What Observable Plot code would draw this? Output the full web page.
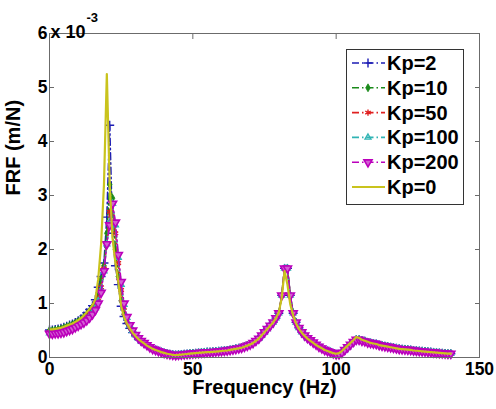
<!DOCTYPE html>
<html>
<head>
<meta charset="utf-8">
<script src="https://cdn.jsdelivr.net/npm/d3@7"></script>
<script src="https://cdn.jsdelivr.net/npm/@observablehq/plot@0.6"></script>
<style>
  html, body { margin: 0; padding: 0; background: #fff; }
  #chart { width: 496px; height: 409px; }
  #chart svg text { font-family: "Liberation Sans", Arial, sans-serif; font-weight: bold; }
</style>
</head>
<body>
<div id="chart"></div>
<script>
// Frequency response of the spindle model for several controller gains Kp.
// Receptance values are in units of 1e-3 m/N, sampled every 1 Hz from 0 to 140 Hz.
const freqHz = d3.range(0, 141);

const xTicks = [0, 50, 100, 150];
const yTicks = [0, 1, 2, 3, 4, 5, 6];

// Kp = 0 (open loop), full band 0–140 Hz
const frfKp0 = [
  0.52, 0.52, 0.53, 0.54, 0.55, 0.57, 0.59, 0.61, 0.63, 0.66,
  0.69, 0.73, 0.78, 0.84, 0.90, 0.97, 1.08, 1.45, 2.10, 3.20,
  5.25, 3.20, 2.20, 1.75, 1.40, 0.95, 0.75, 0.63, 0.54, 0.46,
  0.40, 0.34, 0.30, 0.26, 0.22, 0.19, 0.16, 0.14, 0.12, 0.10,
  0.085, 0.07, 0.06, 0.05, 0.045, 0.05, 0.055, 0.06, 0.065, 0.07,
  0.075, 0.08, 0.085, 0.09, 0.095, 0.10, 0.10, 0.105, 0.11, 0.115,
  0.12, 0.125, 0.13, 0.14, 0.15, 0.16, 0.17, 0.18, 0.20, 0.22,
  0.24, 0.27, 0.31, 0.35, 0.41, 0.47, 0.53, 0.59, 0.65, 0.73,
  0.84, 1.10, 1.60, 1.35, 0.98, 0.78, 0.63, 0.53, 0.46, 0.40,
  0.35, 0.31, 0.27, 0.23, 0.20, 0.17, 0.14, 0.12, 0.10, 0.08,
  0.07, 0.08, 0.12, 0.17, 0.22, 0.27, 0.32, 0.38, 0.36, 0.33,
  0.31, 0.29, 0.27, 0.26, 0.25, 0.23, 0.22, 0.21, 0.20, 0.19,
  0.18, 0.17, 0.16, 0.155, 0.15, 0.145, 0.14, 0.13, 0.125, 0.12,
  0.115, 0.11, 0.105, 0.10, 0.095, 0.09, 0.085, 0.08, 0.075, 0.07, 0.07
];

// Closed-loop curves, 0–34 Hz (first mode, where the gains differ)
const headKp2 = [
  0.51, 0.51, 0.52, 0.53, 0.54, 0.56, 0.58, 0.60, 0.62, 0.65,
  0.68, 0.72, 0.77, 0.83, 0.89, 0.96, 1.07, 1.30, 1.50, 1.75,
  2.60, 4.30, 2.30, 1.70, 1.35, 0.95, 0.76, 0.63, 0.54, 0.46,
  0.40, 0.34, 0.30, 0.26, 0.22
];
const headKp10 = [
  0.50, 0.50, 0.51, 0.52, 0.53, 0.55, 0.57, 0.59, 0.61, 0.64,
  0.67, 0.70, 0.75, 0.80, 0.86, 0.93, 1.02, 1.20, 1.45, 1.70,
  2.30, 3.20, 2.95, 2.00, 1.50, 1.05, 0.80, 0.65, 0.55, 0.47,
  0.40, 0.35, 0.30, 0.26, 0.22
];
const headKp50 = [
  0.47, 0.47, 0.48, 0.49, 0.50, 0.51, 0.53, 0.55, 0.57, 0.60,
  0.63, 0.66, 0.70, 0.75, 0.80, 0.87, 0.95, 1.10, 1.30, 1.65,
  2.10, 2.70, 2.85, 2.30, 1.75, 1.25, 0.92, 0.72, 0.58, 0.49,
  0.42, 0.36, 0.31, 0.27, 0.23
];
const headKp100 = [
  0.45, 0.45, 0.46, 0.46, 0.47, 0.49, 0.50, 0.52, 0.54, 0.57,
  0.60, 0.63, 0.67, 0.71, 0.77, 0.84, 0.92, 1.05, 1.25, 1.60,
  2.10, 2.50, 2.85, 2.45, 1.85, 1.35, 0.98, 0.74, 0.59, 0.50,
  0.42, 0.36, 0.31, 0.27, 0.23
];
const headKp200 = [
  0.44, 0.44, 0.45, 0.45, 0.46, 0.47, 0.49, 0.51, 0.53, 0.56,
  0.59, 0.62, 0.65, 0.69, 0.74, 0.80, 0.88, 1.00, 1.20, 1.60,
  2.10, 2.45, 2.85, 2.50, 1.90, 1.40, 1.00, 0.75, 0.60, 0.50,
  0.42, 0.36, 0.31, 0.27, 0.23
];

// Closed-loop curves, 35–140 Hz (higher modes, common to all gains)
const tailKp = [
  0.19, 0.16, 0.14, 0.12, 0.10,
  0.085, 0.07, 0.06, 0.05, 0.045, 0.05, 0.055, 0.06, 0.065, 0.07,
  0.075, 0.08, 0.085, 0.09, 0.095, 0.10, 0.10, 0.105, 0.11, 0.115,
  0.12, 0.125, 0.13, 0.14, 0.15, 0.16, 0.17, 0.18, 0.20, 0.22,
  0.24, 0.27, 0.31, 0.35, 0.41, 0.47, 0.53, 0.59, 0.65, 0.73,
  0.82, 1.15, 1.65, 1.65, 1.15, 0.82, 0.65, 0.55, 0.47, 0.41,
  0.36, 0.32, 0.28, 0.24, 0.20, 0.17, 0.14, 0.12, 0.10, 0.08,
  0.06, 0.06, 0.09, 0.14, 0.19, 0.24, 0.29, 0.33, 0.33, 0.31,
  0.30, 0.28, 0.27, 0.26, 0.25, 0.23, 0.22, 0.21, 0.20, 0.19,
  0.18, 0.17, 0.16, 0.155, 0.15, 0.145, 0.14, 0.13, 0.125, 0.12,
  0.115, 0.11, 0.105, 0.10, 0.095, 0.09, 0.085, 0.08, 0.075, 0.07, 0.07
];

// Downward-pointing triangle marker
const triangleDown = {
  draw(context, size) {
    const y = -Math.sqrt(size / (Math.sqrt(3) * 3));
    context.moveTo(0, -2 * y);
    context.lineTo(-Math.sqrt(3) * y, y);
    context.lineTo(Math.sqrt(3) * y, y);
    context.closePath();
  }
};

const dashDot = "7,3,1.5,3";
const series = [
  {name: "Kp=2",   values: headKp2.concat(tailKp),   color: "#1c1cb4", symbol: d3.symbolPlus,      r: 3.0, fill: "none",    sw: 1.4, dash: dashDot, width: 1.6},
  {name: "Kp=10",  values: headKp10.concat(tailKp),  color: "#1a8a1a", symbol: d3.symbolDiamond,   r: 2.4, fill: "#1a8a1a", sw: 0.8, dash: dashDot, width: 1.6},
  {name: "Kp=50",  values: headKp50.concat(tailKp),  color: "#e02020", symbol: d3.symbolAsterisk,  r: 3.0, fill: "none",    sw: 1.4, dash: dashDot, width: 1.6},
  {name: "Kp=100", values: headKp100.concat(tailKp), color: "#30b4b4", symbol: d3.symbolTriangle2, r: 2.8, fill: "none",    sw: 1.4, dash: dashDot, width: 1.6},
  {name: "Kp=200", values: headKp200.concat(tailKp), color: "#bb00bb", symbol: triangleDown,       r: 3.0, fill: "#d35fd3", sw: 1.6, dash: dashDot, width: 1.6},
  {name: "Kp=0",   values: frfKp0,                    color: "#c9c31d", symbol: null,               r: 0,   fill: "none",    sw: 0,   dash: null,    width: 2.2}
];

const rowsOf = s => s.values.map((v, i) => ({f: freqHz[i], v}));

const curveMarks = series.flatMap(s => {
  const rows = rowsOf(s);
  const out = [Plot.line(rows, {x: "f", y: "v", stroke: s.color, strokeWidth: s.width, strokeDasharray: s.dash})];
  if (s.symbol) {
    out.push(Plot.dot(rows, {
      x: "f", y: "v", r: s.r, symbol: s.symbol,
      stroke: s.color, strokeWidth: s.sw, fill: s.fill
    }));
  }
  return out;
});

const frameColor = "#6b6b6b";
const intLabel = d => String(d);

const chart = Plot.plot({
  width: 496,
  height: 409,
  marginLeft: 49,
  marginRight: 17,
  marginTop: 33,
  marginBottom: 52,
  x: {domain: [0, 150]},
  y: {domain: [0, 6]},
  style: {background: "#fff", color: "#000", fontFamily: "'Liberation Sans', Arial, sans-serif", fontWeight: "bold", overflow: "visible"},
  marks: [
    // inward tick marks on all four sides
    Plot.axisX(xTicks, {anchor: "bottom", tickSize: -5, fill: "none", stroke: frameColor, label: null}),
    Plot.axisX(xTicks, {anchor: "top", tickSize: -5, fill: "none", stroke: frameColor, label: null}),
    Plot.axisY(yTicks, {anchor: "left", tickSize: -5, fill: "none", stroke: frameColor, label: null}),
    Plot.axisY(yTicks, {anchor: "right", tickSize: -5, fill: "none", stroke: frameColor, label: null}),
    // tick labels
    Plot.axisX(xTicks, {anchor: "bottom", tickSize: 0, tickPadding: 5, fontSize: 17.5, label: null, tickFormat: intLabel}),
    Plot.axisY(yTicks, {anchor: "left", tickSize: 0, tickPadding: 2, fontSize: 17.5, label: null, tickFormat: intLabel}),
    ...curveMarks,
    Plot.frame({stroke: frameColor, strokeWidth: 1}),
    // axis titles and exponent
    Plot.text(["Frequency (Hz)"], {frameAnchor: "bottom", dy: 36, fontSize: 20, fontWeight: "bold"}),
    Plot.text(["FRF (m/N)"], {frameAnchor: "left", rotate: -90, dx: -36, fontSize: 20, fontWeight: "bold"}),
    Plot.text(["x 10"], {frameAnchor: "top-left", textAnchor: "start", dx: 1, dy: -8, fontSize: 18, fontWeight: "bold"}),
    Plot.text(["-3"], {frameAnchor: "top-left", textAnchor: "start", dx: 37, dy: -21, fontSize: 13, fontWeight: "bold"})
  ]
});

document.getElementById("chart").append(chart);

// Legend box inside the upper-right corner of the axes
const svg = d3.select(chart);
const legend = svg.append("g").attr("transform", "translate(346,49)");
legend.append("rect")
  .attr("x", 0.5).attr("y", 0.5).attr("width", 117).attr("height", 155)
  .attr("fill", "#fff").attr("stroke", "#333").attr("stroke-width", 1);
series.forEach((s, i) => {
  const cy = 14 + i * 24.8;
  const row = legend.append("g").attr("transform", `translate(0,${cy})`);
  row.append("line")
    .attr("x1", 6).attr("x2", 39).attr("y1", 0).attr("y2", 0)
    .attr("stroke", s.color).attr("stroke-width", s.dash ? 1.6 : 2)
    .attr("stroke-dasharray", s.dash);
  if (s.symbol) {
    row.append("path")
      .attr("transform", "translate(22,0)")
      .attr("d", d3.symbol(s.symbol, s.r * s.r * Math.PI)())
      .attr("fill", s.fill)
      .attr("stroke", s.color)
      .attr("stroke-width", s.sw);
  }
  row.append("text")
    .attr("x", 41).attr("y", 0).attr("dy", "0.35em")
    .attr("text-anchor", "start")
    .attr("font-size", 20).attr("font-weight", "bold")
    .attr("fill", "#000")
    .text(s.name);
});
</script>
</body>
</html>
